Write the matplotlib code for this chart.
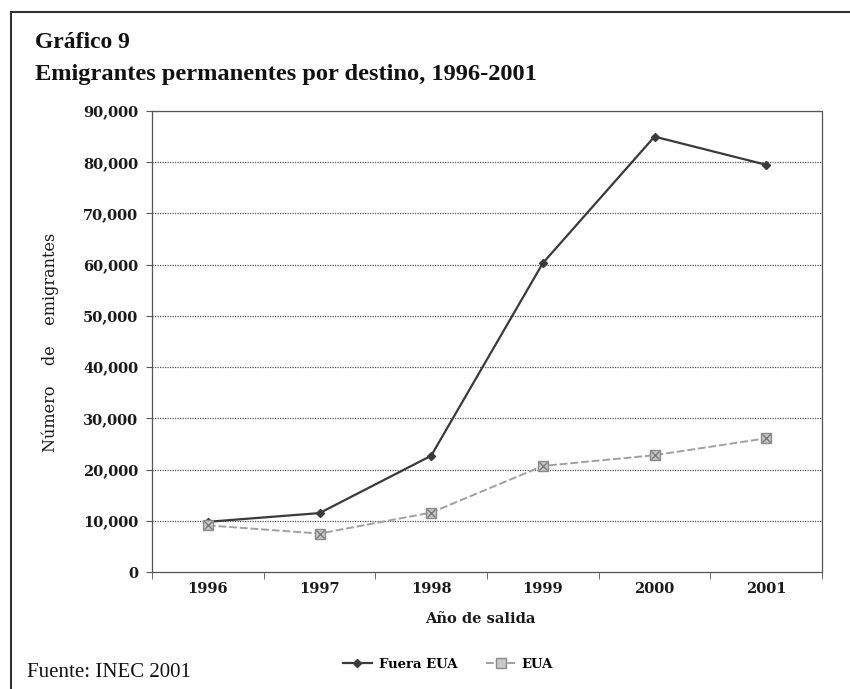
import matplotlib
matplotlib.use("Agg")
import matplotlib.pyplot as plt
from matplotlib.lines import Line2D
import numpy as np

years = ["1996", "1997", "1998", "1999", "2000", "2001"]
fuera_eua = [9800, 11500, 22700, 60300, 85000, 79500]
eua = [9100, 7500, 11600, 20700, 22800, 26100]
y_ticks = [0, 10000, 20000, 30000, 40000, 50000, 60000, 70000, 80000, 90000]
y_tick_labels = ["0", "10,000", "20,000", "30,000", "40,000", "50,000",
                 "60,000", "70,000", "80,000", "90,000"]

W, H = 850, 689
fig = plt.figure(figsize=(W / 100, H / 100), dpi=100)
fig.patch.set_facecolor("white")

ax = fig.add_axes([152 / W, 1 - 572 / H, (822 - 152) / W, (572 - 111) / H])
x = np.arange(len(years))

dot = (0, (1, 1))
grid_c = "#555555"
for yv in y_ticks[1:]:
    ax.axhline(yv, color=grid_c, lw=0.9, ls=dot, zorder=1)
for s in ax.spines.values():
    s.set_linestyle(dot)
    s.set_color(grid_c)
    s.set_linewidth(0.9)

ax.plot(x, fuera_eua, color="#3a3a3a", lw=1.6, marker="D", ms=4.5,
        mfc="#3a3a3a", mec="#3a3a3a", zorder=3, label="Fuera EUA")
ax.plot(x, eua, color="#a0a0a0", lw=1.4, ls=(0, (4, 1.5)), marker="s", ms=6.5,
        mfc="#c8c8c8", mec="#8a8a8a", zorder=3, label="EUA")
ax.plot(x, eua, ls="none", marker="x", ms=5.5, mec="#7a7a7a", mew=1.0, zorder=4)

ax.set_xlim(-0.5, len(years) - 0.5)
ax.set_ylim(0, 90000)
ax.set_yticks(y_ticks)
ax.set_yticklabels(y_tick_labels)
ax.set_xticks(x)
ax.set_xticklabels(years)
ax.set_xticks(np.arange(-0.5, len(years) + 0.5, 1), minor=True)
ax.tick_params(axis="x", which="major", length=0, pad=7)
ax.tick_params(axis="x", which="minor", length=5, color=grid_c, direction="out")
ax.tick_params(axis="y", length=4, color=grid_c, direction="out", pad=6)

for lab in ax.get_xticklabels() + ax.get_yticklabels():
    lab.set_fontfamily("DejaVu Serif")
    lab.set_fontweight("bold")
    lab.set_fontsize(10.5)
    lab.set_color("#1a1a1a")

fig.text(480 / W, 1 - 619 / H, "Año de salida", ha="center", va="center",
         fontfamily="DejaVu Serif", fontweight="bold", fontsize=10.5, color="#1a1a1a")
fig.text(50 / W, 1 - 342 / H, "Número    de    emigrantes", ha="center", va="center",
         rotation=90, fontfamily="DejaVu Serif", fontsize=11.5, color="#1a1a1a")

fig.text(35 / W, 1 - 48 / H, "Gráfico 9", ha="left", va="baseline",
         fontfamily="Liberation Serif", fontweight="bold", fontsize=17, color="#111111")
fig.text(35 / W, 1 - 80 / H, "Emigrantes permanentes por destino, 1996-2001",
         ha="left", va="baseline", fontfamily="Liberation Serif", fontweight="bold",
         fontsize=17.6, color="#111111")
fig.text(27 / W, 1 - 677 / H, "Fuente: INEC 2001", ha="left", va="baseline",
         fontfamily="Liberation Serif", fontsize=15, color="#111111")

h1 = Line2D([], [], color="#3a3a3a", lw=1.6, marker="D", ms=4.5, mfc="#3a3a3a")
h2 = Line2D([], [], color="#a0a0a0", lw=1.4, ls=(0, (4, 1.5)), marker="s", ms=6.5,
            mfc="#c8c8c8", mec="#8a8a8a")
leg = fig.legend([h1, h2], ["Fuera EUA", "EUA"], loc="center",
                 bbox_to_anchor=(448 / W, 1 - 664 / H), ncol=2, frameon=False,
                 prop=dict(family="DejaVu Serif", weight="bold", size=9.5),
                 handlelength=2.2, columnspacing=2.2, handletextpad=0.5)

border_c = "#333333"
fig.add_artist(Line2D([11 / W, 1.0], [1 - 12 / H, 1 - 12 / H], color=border_c,
                      lw=1.5, transform=fig.transFigure))
fig.add_artist(Line2D([11 / W, 11 / W], [1 - 12 / H, 0.0], color=border_c,
                      lw=1.5, transform=fig.transFigure))

fig.savefig("out.png", dpi=100, facecolor="white")
